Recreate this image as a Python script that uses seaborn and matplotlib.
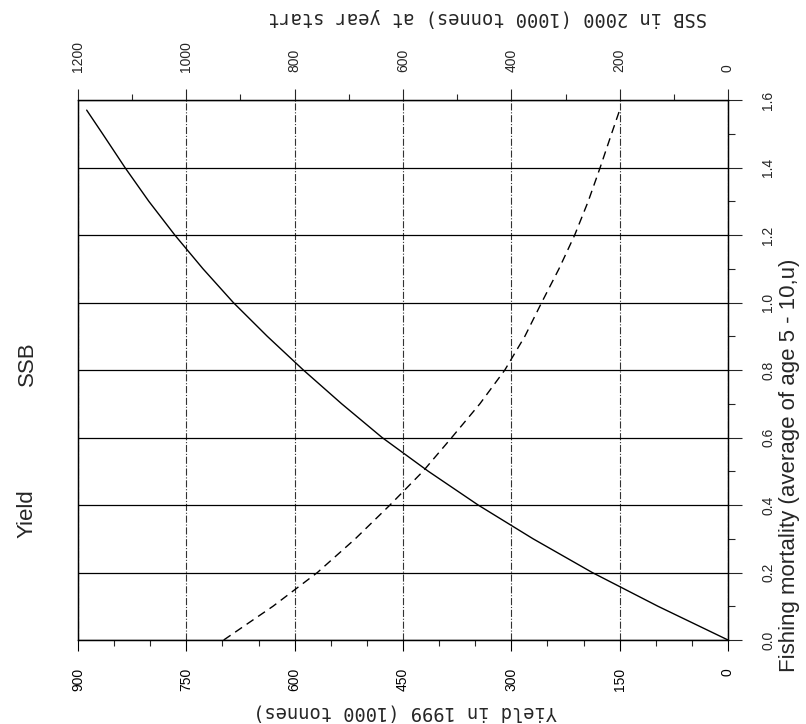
import matplotlib
matplotlib.use("Agg")
import matplotlib.pyplot as plt
import seaborn as sns
import numpy as np
from matplotlib.ticker import MultipleLocator

# ---- data ----
fishing_mortality = [0.0, 0.1, 0.2, 0.3, 0.4, 0.5, 0.6, 0.7, 0.8, 0.9, 1.0,
                     1.1, 1.2, 1.3, 1.4, 1.5, 1.57]
yield_1999 = [0, 97, 188, 270, 346, 415, 479, 535, 588, 638, 685,
              727, 766, 802, 835, 866, 888]
ssb_2000 = [931, 840, 758, 688, 624, 563, 510, 458, 412, 375, 344,
            312, 283, 258, 236, 215, 200]

yield_ticks = [0, 150, 300, 450, 600, 750, 900]
ssb_ticks = [0, 200, 400, 600, 800, 1000, 1200]
f_ticks = [0.0, 0.2, 0.4, 0.6, 0.8, 1.0, 1.2, 1.4, 1.6]

sns.set_style("white")
plt.rcParams['font.family'] = ['Liberation Sans', 'DejaVu Sans']

fig = plt.figure(figsize=(8.06, 7.24), dpi=100)
ax = fig.add_axes([78 / 806, 1 - 640 / 724, 650 / 806, 540 / 724])

# Yield curve (solid)
sns.lineplot(x=yield_1999, y=fishing_mortality, sort=False, ax=ax,
             color="black", linewidth=1.0)
ax.set_xlim(900, 0)
ax.set_ylim(0, 1.6)

# SSB curve (dashed) on top axis
ax2 = ax.twiny()
sns.lineplot(x=ssb_2000, y=fishing_mortality, sort=False, ax=ax2,
             color="black", linewidth=1.0, linestyle=(0, (6, 4)))
ax2.set_xlim(1200, 0)
ax2.set_ylim(0, 1.6)

# bottom axis (yield)
ax.set_xticks(yield_ticks)
ax.set_xticklabels([str(v) for v in yield_ticks], rotation=90, fontsize=10)
ax.xaxis.set_minor_locator(MultipleLocator(50))
ax.tick_params(axis="x", which="major", direction="out", length=8, width=0.8,
               bottom=True, top=False, pad=12, colors="black")
ax.tick_params(axis="x", which="minor", direction="out", length=4, width=0.8,
               bottom=True, top=False)
ax.grid(True, axis="x", which="major", color="#333333", linestyle="-.",
        linewidth=0.8)

# right axis (F)
ax.yaxis.tick_right()
ax.set_yticks(f_ticks)
ax.set_yticklabels([f"{v:.1f}" for v in f_ticks], rotation=90, fontsize=10,
                   va="center")
ax.yaxis.set_minor_locator(MultipleLocator(0.1))
ax.tick_params(axis="y", which="major", direction="out", length=10, width=0.8,
               right=True, left=False, pad=14)
ax.tick_params(axis="y", which="minor", direction="out", length=5, width=0.8,
               right=True, left=False)
ax.grid(True, axis="y", which="major", color="black", linestyle="-",
        linewidth=0.9)

# top axis (SSB)
ax2.set_xticks(ssb_ticks)
ax2.set_xticklabels([str(v) for v in ssb_ticks], rotation=90, fontsize=10)
ax2.xaxis.set_minor_locator(MultipleLocator(100))
ax2.tick_params(axis="x", which="major", direction="out", length=8, width=0.8,
                top=True, bottom=False, pad=12)
ax2.tick_params(axis="x", which="minor", direction="out", length=4, width=0.8,
                top=True, bottom=False)
ax2.tick_params(axis="y", left=False, right=False, labelleft=False,
                labelright=False)
ax2.set_ylabel("")

for a in (ax, ax2):
    for s in a.spines.values():
        s.set_visible(True)
        s.set_color("black")
        s.set_linewidth(0.9)

ax.set_xlabel("")
ax.set_ylabel("")
ax2.set_xlabel("")

# axis titles placed as in the rotated reference
fig.text(405 / 806, 1 - 712 / 724, "Yield in 1999 (1000 tonnes)",
         rotation=180, ha="center", va="center", fontsize=13.5,
         family=["DejaVu Sans Mono"])
fig.text(488 / 806, 1 - 18 / 724, "SSB in 2000 (1000 tonnes) at year start",
         rotation=180, ha="center", va="center", fontsize=13.5,
         family=["DejaVu Sans Mono"])
fig.text(790 / 806, 1 - 465 / 724, "Fishing mortality (average of age 5 - 10,u)",
         rotation=90, ha="center", va="center", fontsize=16)
fig.text(27 / 806, 1 - 514 / 724, "Yield", rotation=90, ha="center",
         va="center", fontsize=16)
fig.text(27 / 806, 1 - 364 / 724, "SSB", rotation=90, ha="center",
         va="center", fontsize=16)

fig.savefig("out.png", dpi=100)
